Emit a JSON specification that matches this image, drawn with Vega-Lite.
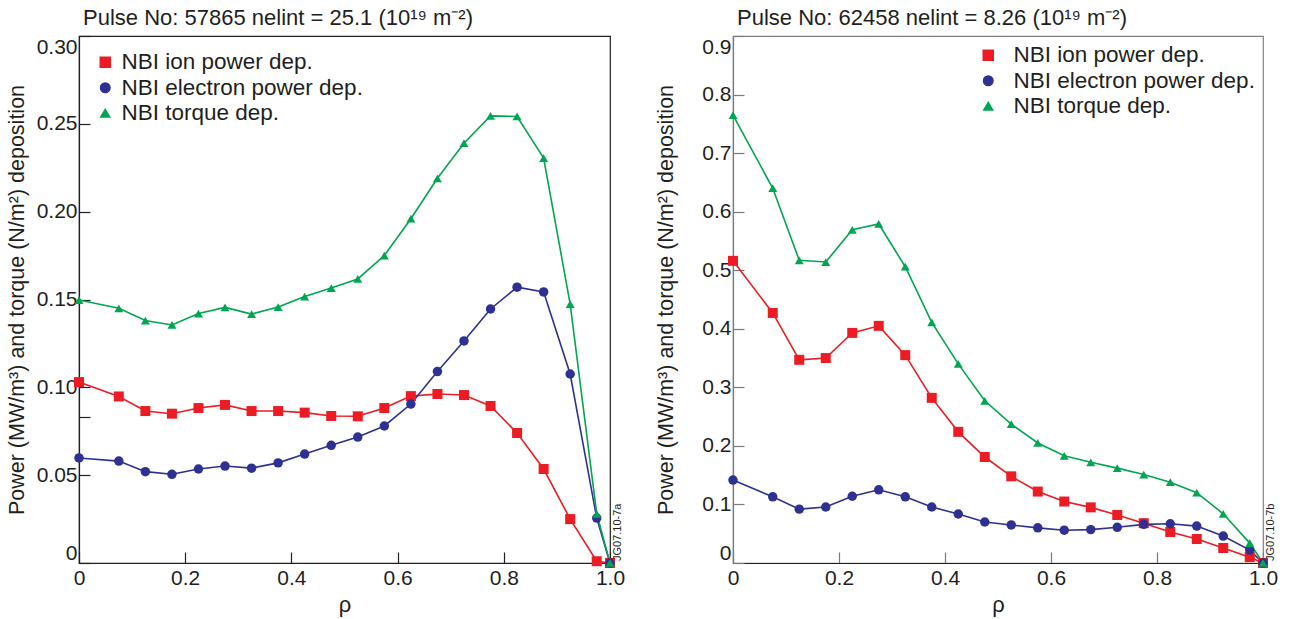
{
  "$schema": "https://vega.github.io/schema/vega-lite/v6.json",
  "padding": {"left": 5, "top": 6, "right": 5, "bottom": 5},
  "background": "white",
  "config": {
    "font": "Liberation Sans",
    "view": {"stroke": "#231F20", "strokeWidth": 1.2},
    "axis": {
      "grid": false,
      "domainColor": "#231F20",
      "tickColor": "#231F20",
      "labelColor": "#231F20",
      "titleColor": "#231F20",
      "labelFont": "Liberation Sans",
      "titleFont": "Liberation Sans",
      "labelFontSize": 21,
      "titleFontSize": 21.5,
      "titleFontWeight": "normal",
      "tickSize": -11,
      "tickWidth": 1.2,
      "domainWidth": 1.2
    },
    "title": {"font": "Liberation Sans", "fontSize": 22, "fontWeight": "normal", "anchor": "start", "frame": "group", "color": "#231F20", "offset": 5},
    "legend": {"labelFont": "Liberation Sans", "labelFontSize": 22.5, "labelColor": "#231F20", "padding": 0, "labelLimit": 500}
  },
  "datasets": {
    "a": [
      {"rho": 0, "series": "NBI ion power dep.", "v": 0.103},
      {"rho": 0.075, "series": "NBI ion power dep.", "v": 0.0948},
      {"rho": 0.125, "series": "NBI ion power dep.", "v": 0.0865},
      {"rho": 0.175, "series": "NBI ion power dep.", "v": 0.085},
      {"rho": 0.225, "series": "NBI ion power dep.", "v": 0.0882},
      {"rho": 0.275, "series": "NBI ion power dep.", "v": 0.09},
      {"rho": 0.325, "series": "NBI ion power dep.", "v": 0.0865},
      {"rho": 0.375, "series": "NBI ion power dep.", "v": 0.0865},
      {"rho": 0.425, "series": "NBI ion power dep.", "v": 0.0856},
      {"rho": 0.475, "series": "NBI ion power dep.", "v": 0.0837},
      {"rho": 0.525, "series": "NBI ion power dep.", "v": 0.0835},
      {"rho": 0.575, "series": "NBI ion power dep.", "v": 0.0882},
      {"rho": 0.625, "series": "NBI ion power dep.", "v": 0.095},
      {"rho": 0.675, "series": "NBI ion power dep.", "v": 0.0962},
      {"rho": 0.725, "series": "NBI ion power dep.", "v": 0.0956},
      {"rho": 0.775, "series": "NBI ion power dep.", "v": 0.0894},
      {"rho": 0.825, "series": "NBI ion power dep.", "v": 0.074},
      {"rho": 0.875, "series": "NBI ion power dep.", "v": 0.0535},
      {"rho": 0.925, "series": "NBI ion power dep.", "v": 0.025},
      {"rho": 0.975, "series": "NBI ion power dep.", "v": 0.001},
      {"rho": 1.0, "series": "NBI ion power dep.", "v": 0},
      {"rho": 0, "series": "NBI electron power dep.", "v": 0.0598},
      {"rho": 0.075, "series": "NBI electron power dep.", "v": 0.058},
      {"rho": 0.125, "series": "NBI electron power dep.", "v": 0.052},
      {"rho": 0.175, "series": "NBI electron power dep.", "v": 0.0505},
      {"rho": 0.225, "series": "NBI electron power dep.", "v": 0.0535},
      {"rho": 0.275, "series": "NBI electron power dep.", "v": 0.0552},
      {"rho": 0.325, "series": "NBI electron power dep.", "v": 0.054},
      {"rho": 0.375, "series": "NBI electron power dep.", "v": 0.057},
      {"rho": 0.425, "series": "NBI electron power dep.", "v": 0.062},
      {"rho": 0.475, "series": "NBI electron power dep.", "v": 0.067},
      {"rho": 0.525, "series": "NBI electron power dep.", "v": 0.0717},
      {"rho": 0.575, "series": "NBI electron power dep.", "v": 0.078},
      {"rho": 0.625, "series": "NBI electron power dep.", "v": 0.0905},
      {"rho": 0.675, "series": "NBI electron power dep.", "v": 0.109},
      {"rho": 0.725, "series": "NBI electron power dep.", "v": 0.1264},
      {"rho": 0.775, "series": "NBI electron power dep.", "v": 0.1446},
      {"rho": 0.825, "series": "NBI electron power dep.", "v": 0.157},
      {"rho": 0.875, "series": "NBI electron power dep.", "v": 0.1543},
      {"rho": 0.925, "series": "NBI electron power dep.", "v": 0.1076},
      {"rho": 0.975, "series": "NBI electron power dep.", "v": 0.0256},
      {"rho": 1.0, "series": "NBI electron power dep.", "v": 0},
      {"rho": 0, "series": "NBI torque dep.", "v": 0.1497},
      {"rho": 0.075, "series": "NBI torque dep.", "v": 0.145},
      {"rho": 0.125, "series": "NBI torque dep.", "v": 0.138},
      {"rho": 0.175, "series": "NBI torque dep.", "v": 0.1355},
      {"rho": 0.225, "series": "NBI torque dep.", "v": 0.142},
      {"rho": 0.275, "series": "NBI torque dep.", "v": 0.1455},
      {"rho": 0.325, "series": "NBI torque dep.", "v": 0.1417},
      {"rho": 0.375, "series": "NBI torque dep.", "v": 0.1457},
      {"rho": 0.425, "series": "NBI torque dep.", "v": 0.1517},
      {"rho": 0.475, "series": "NBI torque dep.", "v": 0.1565},
      {"rho": 0.525, "series": "NBI torque dep.", "v": 0.1617},
      {"rho": 0.575, "series": "NBI torque dep.", "v": 0.175},
      {"rho": 0.625, "series": "NBI torque dep.", "v": 0.196},
      {"rho": 0.675, "series": "NBI torque dep.", "v": 0.219},
      {"rho": 0.725, "series": "NBI torque dep.", "v": 0.239},
      {"rho": 0.775, "series": "NBI torque dep.", "v": 0.2545},
      {"rho": 0.825, "series": "NBI torque dep.", "v": 0.2542},
      {"rho": 0.875, "series": "NBI torque dep.", "v": 0.2305},
      {"rho": 0.925, "series": "NBI torque dep.", "v": 0.1474},
      {"rho": 0.975, "series": "NBI torque dep.", "v": 0.028},
      {"rho": 1.0, "series": "NBI torque dep.", "v": 0}
    ],
    "b": [
      {"rho": 0, "series": "NBI ion power dep.", "v": 0.516},
      {"rho": 0.075, "series": "NBI ion power dep.", "v": 0.427},
      {"rho": 0.125, "series": "NBI ion power dep.", "v": 0.347},
      {"rho": 0.175, "series": "NBI ion power dep.", "v": 0.35},
      {"rho": 0.225, "series": "NBI ion power dep.", "v": 0.393},
      {"rho": 0.275, "series": "NBI ion power dep.", "v": 0.405},
      {"rho": 0.325, "series": "NBI ion power dep.", "v": 0.355},
      {"rho": 0.375, "series": "NBI ion power dep.", "v": 0.282},
      {"rho": 0.425, "series": "NBI ion power dep.", "v": 0.224},
      {"rho": 0.475, "series": "NBI ion power dep.", "v": 0.181},
      {"rho": 0.525, "series": "NBI ion power dep.", "v": 0.148},
      {"rho": 0.575, "series": "NBI ion power dep.", "v": 0.122},
      {"rho": 0.625, "series": "NBI ion power dep.", "v": 0.105},
      {"rho": 0.675, "series": "NBI ion power dep.", "v": 0.095},
      {"rho": 0.725, "series": "NBI ion power dep.", "v": 0.082},
      {"rho": 0.775, "series": "NBI ion power dep.", "v": 0.068},
      {"rho": 0.825, "series": "NBI ion power dep.", "v": 0.053},
      {"rho": 0.875, "series": "NBI ion power dep.", "v": 0.041},
      {"rho": 0.925, "series": "NBI ion power dep.", "v": 0.0256},
      {"rho": 0.975, "series": "NBI ion power dep.", "v": 0.01},
      {"rho": 1.0, "series": "NBI ion power dep.", "v": 0},
      {"rho": 0, "series": "NBI electron power dep.", "v": 0.1417},
      {"rho": 0.075, "series": "NBI electron power dep.", "v": 0.113},
      {"rho": 0.125, "series": "NBI electron power dep.", "v": 0.092},
      {"rho": 0.175, "series": "NBI electron power dep.", "v": 0.0956},
      {"rho": 0.225, "series": "NBI electron power dep.", "v": 0.114},
      {"rho": 0.275, "series": "NBI electron power dep.", "v": 0.125},
      {"rho": 0.325, "series": "NBI electron power dep.", "v": 0.113},
      {"rho": 0.375, "series": "NBI electron power dep.", "v": 0.0956},
      {"rho": 0.425, "series": "NBI electron power dep.", "v": 0.0837},
      {"rho": 0.475, "series": "NBI electron power dep.", "v": 0.07},
      {"rho": 0.525, "series": "NBI electron power dep.", "v": 0.065},
      {"rho": 0.575, "series": "NBI electron power dep.", "v": 0.06},
      {"rho": 0.625, "series": "NBI electron power dep.", "v": 0.056},
      {"rho": 0.675, "series": "NBI electron power dep.", "v": 0.057},
      {"rho": 0.725, "series": "NBI electron power dep.", "v": 0.061},
      {"rho": 0.775, "series": "NBI electron power dep.", "v": 0.066},
      {"rho": 0.825, "series": "NBI electron power dep.", "v": 0.067},
      {"rho": 0.875, "series": "NBI electron power dep.", "v": 0.063},
      {"rho": 0.925, "series": "NBI electron power dep.", "v": 0.046},
      {"rho": 0.975, "series": "NBI electron power dep.", "v": 0.022},
      {"rho": 1.0, "series": "NBI electron power dep.", "v": 0},
      {"rho": 0, "series": "NBI torque dep.", "v": 0.765},
      {"rho": 0.075, "series": "NBI torque dep.", "v": 0.64},
      {"rho": 0.125, "series": "NBI torque dep.", "v": 0.517},
      {"rho": 0.175, "series": "NBI torque dep.", "v": 0.514},
      {"rho": 0.225, "series": "NBI torque dep.", "v": 0.569},
      {"rho": 0.275, "series": "NBI torque dep.", "v": 0.579},
      {"rho": 0.325, "series": "NBI torque dep.", "v": 0.506},
      {"rho": 0.375, "series": "NBI torque dep.", "v": 0.411},
      {"rho": 0.425, "series": "NBI torque dep.", "v": 0.34},
      {"rho": 0.475, "series": "NBI torque dep.", "v": 0.277},
      {"rho": 0.525, "series": "NBI torque dep.", "v": 0.237},
      {"rho": 0.575, "series": "NBI torque dep.", "v": 0.205},
      {"rho": 0.625, "series": "NBI torque dep.", "v": 0.183},
      {"rho": 0.675, "series": "NBI torque dep.", "v": 0.172},
      {"rho": 0.725, "series": "NBI torque dep.", "v": 0.162},
      {"rho": 0.775, "series": "NBI torque dep.", "v": 0.151},
      {"rho": 0.825, "series": "NBI torque dep.", "v": 0.138},
      {"rho": 0.875, "series": "NBI torque dep.", "v": 0.12},
      {"rho": 0.925, "series": "NBI torque dep.", "v": 0.084},
      {"rho": 0.975, "series": "NBI torque dep.", "v": 0.034},
      {"rho": 1.0, "series": "NBI torque dep.", "v": 0}
    ]
  },
  "spacing": 29,
  "resolve": {"scale": {"color": "independent", "shape": "independent", "size": "independent"}, "legend": {"color": "independent", "shape": "independent", "size": "independent"}},
  "hconcat": [
    {
      "width": 531,
      "height": 527,
      "title": {"text": "Pulse No: 57865 nelint = 25.1 (10¹⁹ m⁻²)", "dx": 4},
      "data": {"name": "a"},
      "layer": [
        {
          "mark": {"type": "line", "strokeWidth": 1.6},
          "encoding": {
            "x": {"field": "rho", "type": "quantitative", "scale": {"domain": [0, 1]},
              "axis": {"title": "ρ", "titleFontSize": 22, "titlePadding": 6, "values": [0, 0.2, 0.4, 0.6, 0.8, 1.0], "labelPadding": 15, "labelFlush": false,
                "labelExpr": "datum.value == 0 ? '0' : format(datum.value, '.1f')"}},
            "y": {"field": "v", "type": "quantitative", "scale": {"domain": [0, 0.3]},
              "axis": {"title": "Power (MW/m³) and torque (N/m²) deposition", "titlePadding": 8, "labelPadding": 13, "labelFlush": true,
                "values": [0, 0.05, 0.0833, 0.1, 0.15, 0.2, 0.25, 0.3],
                "labelExpr": "datum.value == 0 ? '0' : (abs(datum.value - 0.0833) < 0.001 ? '' : format(datum.value, '.2f'))"}},
            "color": {"field": "series", "type": "nominal",
              "scale": {"domain": ["NBI ion power dep.", "NBI electron power dep.", "NBI torque dep."], "range": ["#ED1C24", "#2E3192", "#00A651"]}},
            "detail": {"field": "series"}
          }
        },
        {
          "mark": {"type": "point", "filled": true, "opacity": 1, "strokeWidth": 0},
          "encoding": {
            "x": {"field": "rho", "type": "quantitative"},
            "y": {"field": "v", "type": "quantitative"},
            "color": {"field": "series", "type": "nominal",
              "scale": {"domain": ["NBI ion power dep.", "NBI electron power dep.", "NBI torque dep."], "range": ["#ED1C24", "#2E3192", "#00A651"]},
              "legend": {"title": null, "orient": "top-left", "offset": 15, "symbolSize": 400, "labelOffset": 5, "rowPadding": 2.5}},
            "shape": {"field": "series", "type": "nominal",
              "scale": {"domain": ["NBI ion power dep.", "NBI electron power dep.", "NBI torque dep."], "range": ["square", "circle", "triangle-up"]},
              "legend": null},
            "size": {"field": "series", "type": "nominal",
              "scale": {"domain": ["NBI ion power dep.", "NBI electron power dep.", "NBI torque dep."], "range": [100, 80, 90]},
              "legend": null}
          }
        },
        {
          "data": {"values": [{"rho": 1.0, "v": 0, "label": "JG07.10-7a"}]},
          "mark": {"type": "text", "angle": 270, "align": "left", "baseline": "top", "dy": 2, "dx": 2, "fontSize": 11, "font": "Liberation Sans", "color": "#231F20"},
          "encoding": {
            "x": {"field": "rho", "type": "quantitative"},
            "y": {"field": "v", "type": "quantitative"},
            "text": {"field": "label"}
          }
        }
      ]
    },
    {
      "width": 530,
      "height": 527,
      "title": {"text": "Pulse No: 62458 nelint = 8.26 (10¹⁹ m⁻²)", "dx": 4},
      "view": {"stroke": "#808080"},
      "data": {"name": "b"},
      "layer": [
        {
          "mark": {"type": "line", "strokeWidth": 1.6},
          "encoding": {
            "x": {"field": "rho", "type": "quantitative", "scale": {"domain": [0, 1]},
              "axis": {"title": "ρ", "titleFontSize": 22, "titlePadding": 6, "values": [0, 0.2, 0.4, 0.6, 0.8, 1.0], "labelPadding": 15, "labelFlush": false,
                "tickColor": "#7a7a7a",
                "labelExpr": "datum.value == 0 ? '0' : format(datum.value, '.1f')"}},
            "y": {"field": "v", "type": "quantitative", "scale": {"domain": [0, 0.9]},
              "axis": {"title": "Power (MW/m³) and torque (N/m²) deposition", "titlePadding": 24, "labelPadding": 13, "labelFlush": true,
                "domainColor": "#7a7a7a", "tickColor": "#7a7a7a",
                "values": [0, 0.1, 0.2, 0.3, 0.4, 0.5, 0.6, 0.7, 0.8, 0.9],
                "labelExpr": "datum.value == 0 ? '0' : format(datum.value, '.1f')"}},
            "color": {"field": "series", "type": "nominal",
              "scale": {"domain": ["NBI ion power dep.", "NBI electron power dep.", "NBI torque dep."], "range": ["#ED1C24", "#2E3192", "#00A651"]}},
            "detail": {"field": "series"}
          }
        },
        {
          "mark": {"type": "point", "filled": true, "opacity": 1, "strokeWidth": 0},
          "encoding": {
            "x": {"field": "rho", "type": "quantitative"},
            "y": {"field": "v", "type": "quantitative"},
            "color": {"field": "series", "type": "nominal",
              "scale": {"domain": ["NBI ion power dep.", "NBI electron power dep.", "NBI torque dep."], "range": ["#ED1C24", "#2E3192", "#00A651"]},
              "legend": {"title": null, "orient": "top-right", "offset": 8, "symbolSize": 400, "labelOffset": 14, "rowPadding": 2.5}},
            "shape": {"field": "series", "type": "nominal",
              "scale": {"domain": ["NBI ion power dep.", "NBI electron power dep.", "NBI torque dep."], "range": ["square", "circle", "triangle-up"]},
              "legend": null},
            "size": {"field": "series", "type": "nominal",
              "scale": {"domain": ["NBI ion power dep.", "NBI electron power dep.", "NBI torque dep."], "range": [100, 80, 90]},
              "legend": null}
          }
        },
        {
          "data": {"values": [{"rho": 1.0, "v": 0, "label": "JG07.10-7b"}]},
          "mark": {"type": "text", "angle": 270, "align": "left", "baseline": "top", "dy": 2, "dx": 2, "fontSize": 11, "font": "Liberation Sans", "color": "#231F20"},
          "encoding": {
            "x": {"field": "rho", "type": "quantitative"},
            "y": {"field": "v", "type": "quantitative"},
            "text": {"field": "label"}
          }
        }
      ]
    }
  ]
}
